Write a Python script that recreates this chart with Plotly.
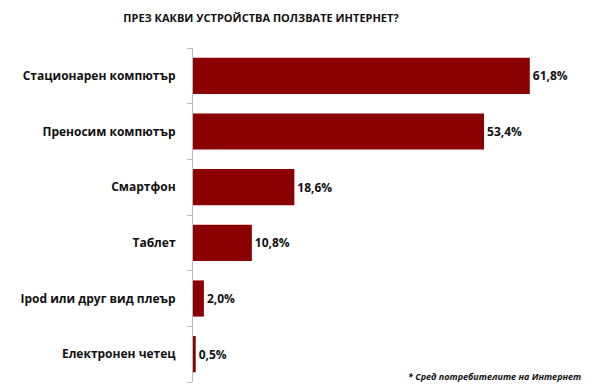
import plotly.graph_objects as go

categories = ["Стационарен компютър", "Преносим компютър", "Смартфон", "Таблет",
              "Ipod или друг вид плеър", "Електронен четец"]
values = [61.8, 53.4, 18.6, 10.8, 2.0, 0.5]
labels = [f"{v:.1f}".replace(".", ",") + "%" for v in values]

FONT = "Open Sans"

fig = go.Figure(go.Bar(
    x=values, y=categories, orientation="h",
    marker=dict(color="#8B0000", line=dict(width=0)),
    text=labels, textposition="outside", cliponaxis=False,
    textfont=dict(family=FONT, size=12, color="#111111"),
    texttemplate="<b>%{text}</b>",
    width=0.65,
))

fig.update_layout(
    width=600, height=392,
    margin=dict(l=193, r=10, t=48, b=10),
    paper_bgcolor="white", plot_bgcolor="white",
    showlegend=False,
    title=dict(text="<b>ПРЕЗ КАКВИ УСТРОЙСТВА ПОЛЗВАТЕ ИНТЕРНЕТ?</b>",
               x=261 / 600, xanchor="center", y=1 - 18 / 392, yanchor="middle",
               font=dict(family=FONT, size=11, color="#111111")),
    font=dict(family=FONT),
)
fig.update_xaxes(range=[0, 72.85], visible=False)
fig.update_yaxes(autorange="reversed", type="category",
                 showline=True, linecolor="#BBBBBB", linewidth=1,
                 ticks="outside", tickson="boundaries", ticklen=5, tickcolor="#BBBBBB",
                 ticklabelstandoff=14,
                 tickvals=categories, ticktext=[f"<b>{c}</b>" for c in categories],
                 tickfont=dict(family=FONT, size=12, color="#111111"),
                 showgrid=False)
fig.add_annotation(text="<b><i>* Сред потребителите на Интернет</i></b>",
                   xref="paper", yref="paper", x=(583 - 193) / 397, y=(382 - 376) / 334,
                   xanchor="right", yanchor="middle", showarrow=False,
                   font=dict(family=FONT, size=9, color="#111111"))
fig.write_html("out.html")
